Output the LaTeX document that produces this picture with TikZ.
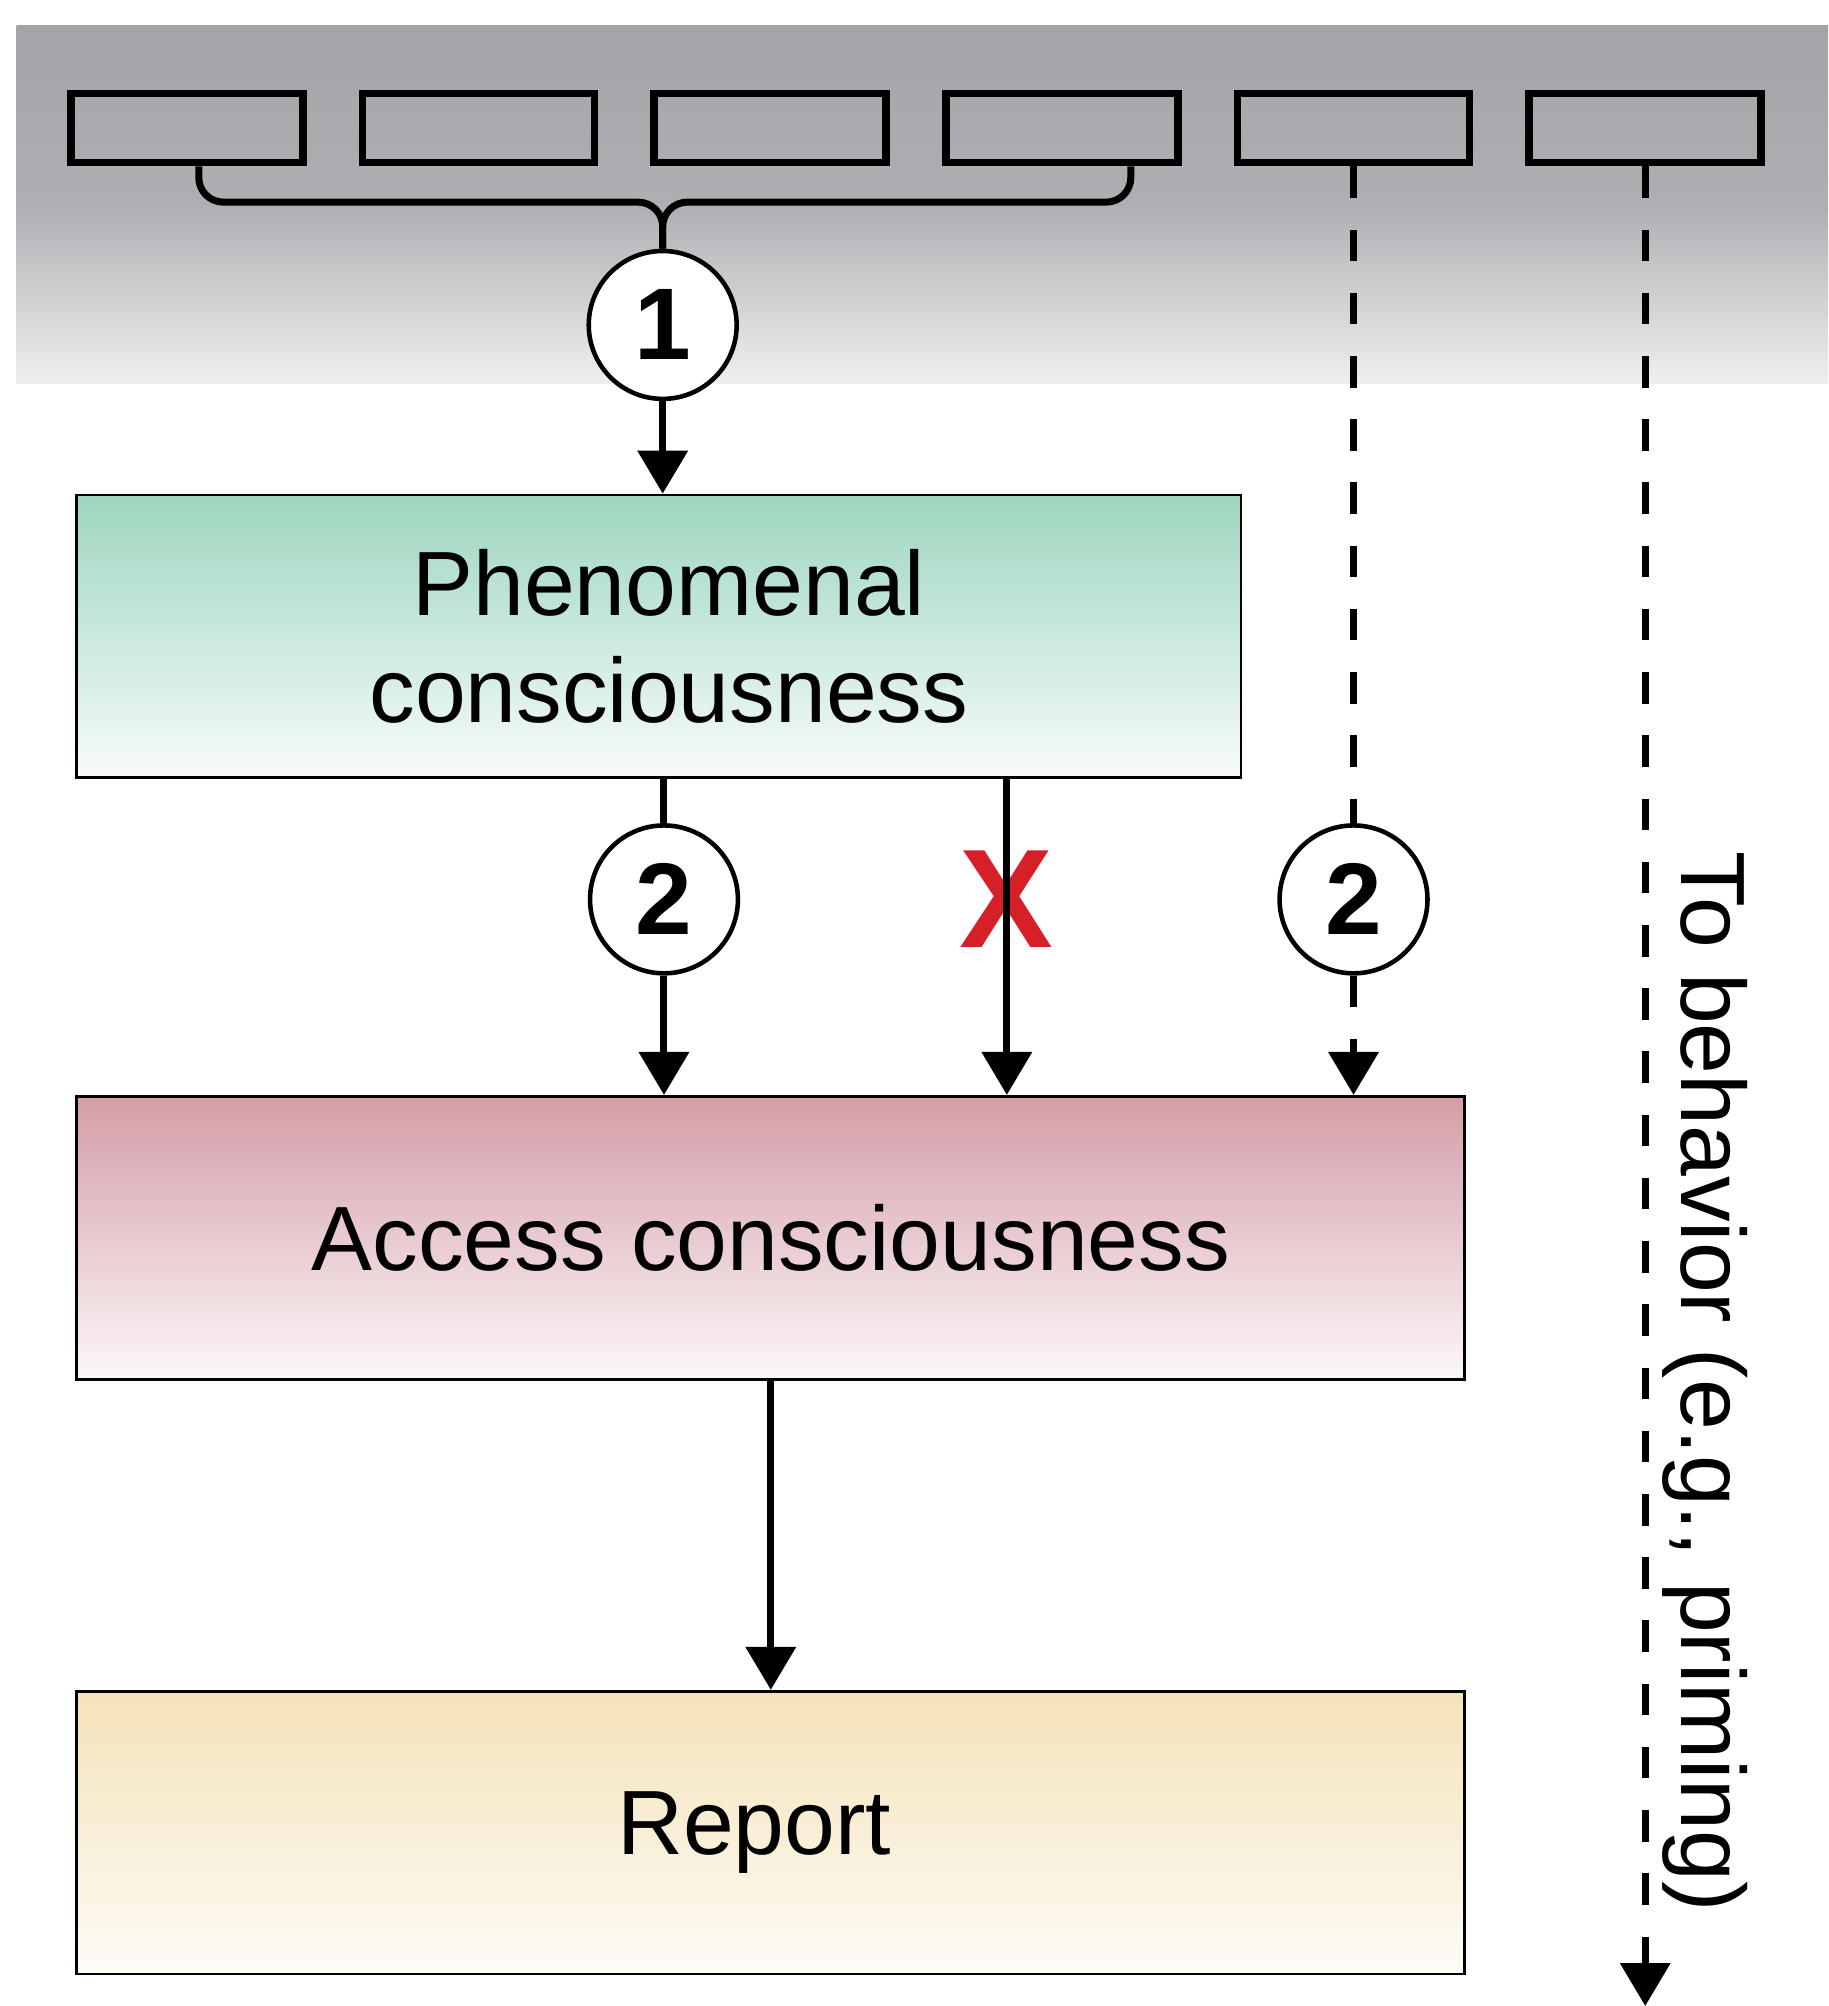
\documentclass[tikz,border=0pt]{standalone}
\usepackage{fontspec}
\setmainfont{Liberation Sans}
\usetikzlibrary{arrows.meta,positioning}

\definecolor{bandgray}{RGB}{163,164,168}
\definecolor{bandlight}{RGB}{238,239,239}
\definecolor{phengreen}{RGB}{157,214,191}
\definecolor{accpink}{RGB}{212,157,167}
\definecolor{repyellow}{RGB}{244,226,184}
\definecolor{crossred}{RGB}{214,32,39}

\tikzset{
  slot/.style={draw,line width=2.2pt,minimum width=2.32cm,minimum height=0.69cm,inner sep=0pt},
  stage/.style={draw,line width=0.8pt,minimum height=2.83cm,align=center,font=\fontsize{26}{30.5}\selectfont},
  num/.style={draw,circle,fill=white,line width=1.3pt,minimum size=1.48cm,inner sep=0pt,font=\bfseries\fontsize{29}{29}\selectfont},
  brace/.style={line width=2pt,rounded corners=7pt},
  flow/.style={->,line width=2pt},
  weakline/.style={line width=2pt,dash pattern=on 9pt off 9pt},
  weak/.style={->,weakline},
}

\begin{document}
\begin{tikzpicture}[x=0.0128cm,y=-0.0128cm,>={Triangle[width=4.9mm,length=4.3mm]}]
  \useasboundingbox (0,0) rectangle (1429,1568);

  % sensory band
  \fill[top color=bandgray,bottom color=bandlight,middle color=bandgray!85!bandlight] (13,20) rectangle (1429,300);

  \foreach \i in {1,...,6}
    \node[slot] (b\i) at ({146+228*(\i-1)},100) {};

  \node[num] (c1) at (518,254) {1};
  \coordinate (brk) at (c1.north |- 0,158);

  \node[stage,minimum width=11.65cm,top color=phengreen,bottom color=phengreen!8!white] (phen) at (515,497.5) {\hspace*{0.2cm}Phenomenal\\\hspace*{0.2cm}consciousness};
  \node[stage,minimum width=13.89cm,top color=accpink,bottom color=accpink!8!white] (acc) at (602.5,967.5) {Access consciousness};
  \node[stage,minimum width=13.89cm,top color=repyellow,bottom color=repyellow!12!white] (rep) at (602.5,1432.5) {Report\hspace*{0.33cm}};

  \node[num] (c2a) at (519,703) {2};
  \node[num] (c2b) at (b5 |- c2a) {2};
  \node[text=crossred,font=\bfseries\fontsize{40}{40}\selectfont,inner sep=0pt] (cross) at (787,703) {X};

  \node[rotate=-90,font=\fontsize{26}{26}\selectfont] (beh) at (1333,1080) {To behavior (e.g., priming)};
  \coordinate (out) at (b6 |- 0,1568);

  % brace over the first four slots
  \draw[brace] ([xshift=0.12cm]b1.south) |- (brk) -- (c1.north);
  \draw[brace] ([xshift=0.69cm]b4.south) |- (brk) -- (c1.north);

  \draw[flow] (c1) -- (c1 |- phen.north);
  \draw[line width=2pt] (phen.south -| c2a) -- (c2a);
  \draw[flow] (c2a) -- (c2a |- acc.north);
  \draw[flow] (phen.south -| cross) -- (acc.north -| cross);
  \draw[weakline] (b5.south) -- (c2b);
  \draw[weak] (c2b) -- (c2b |- acc.north);
  \draw[flow] (acc.south) -- (rep.north);
  \draw[weak] (b6.south) -- (out);
\end{tikzpicture}
\end{document}
